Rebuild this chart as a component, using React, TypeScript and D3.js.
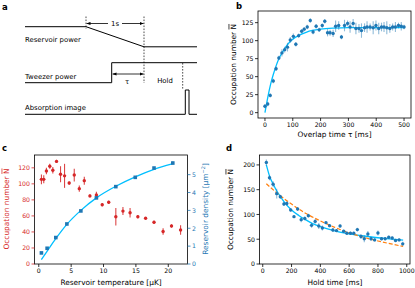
import React from 'react';
import * as d3 from 'd3';

const FONT = 'DejaVu Sans, Verdana, sans-serif';
const BLUE = '#1f77b4';
const RED = '#d62728';
const CYAN = '#00bfff';
const ORANGE = '#ff7f0e';

// ---- panel b: loading curve
const bTime = [0, 10, 19, 30, 40, 50, 61, 71, 81, 91, 102, 111, 121, 132, 141, 152, 163, 173, 184, 195, 206, 215, 225, 234, 245, 254, 265, 275, 286, 297, 306, 317, 327, 338, 347, 358, 367, 378, 389, 399, 409, 419, 428, 438, 449, 459, 469, 480, 490, 500];
const bN = [9, 12, 24, 44, 61, 76, 83, 87.5, 91, 101, 106, 95, 107, 113, 116, 119, 128, 112, 120, 115, 121, 127, 111, 111, 110, 120, 121, 105, 121, 124, 119, 124, 117, 117, 114, 118, 119, 119, 118, 121, 117, 119, 119, 118, 117, 119, 119, 121, 120, 119];
const bErr = [3, 3, 3, 3, 3, 3, 5, 4, 6, 4, 4, 3, 3, 3, 3, 3, 3, 3, 3, 3, 3, 3, 5, 4, 5, 8, 6, 3, 8, 4, 8, 6, 8, 6, 10, 6, 8, 5, 9, 7, 8, 6, 7, 9, 6, 5, 7, 4, 6, 3];
const bFitT = [0, 10, 20, 30, 40, 50, 60, 80, 100, 125, 150, 200, 250, 300, 400, 500];
const bFitN = [0, 21, 39, 53, 65, 75, 82, 94, 102, 108, 112, 116, 117.5, 118, 118, 118];
const bXTicks = [0, 100, 200, 300, 400, 500];
const bYTicks = [0, 25, 50, 75, 100, 125];

// ---- panel c: temperature scan
const cTemp = [0.41, 0.77, 1.18, 1.7, 2.17, 2.74, 3.36, 3.98, 4.7, 5.48, 6.26, 7.03, 7.9, 8.9, 9.8, 10.8, 11.9, 13.0, 14.1, 15.3, 16.5, 17.8, 19.2, 20.5, 21.9];
const cN = [105.6, 105.6, 116, 122, 117, 128, 112, 110, 101, 111, 94, 104, 85, 86, 74, 77, 59, 66, 64, 59, 57, 52, 40.5, 47.5, 42.5];
const cNErr = [6, 5, 4, 3, 4, 2, 10, 15, 2, 8, 4, 5, 2, 4, 2, 2, 11, 5, 6, 2, 1.5, 2, 4, 2, 6];
const cDensT = [0.41, 1.29, 2.63, 4.34, 6.5, 8.9, 11.9, 14.9, 17.8, 20.7];
const cDens = [0.62, 0.88, 1.48, 2.24, 2.97, 3.7, 4.33, 4.85, 5.37, 5.65];
const cDensErr = [0.05, 0.05, 0.05, 0.05, 0.05, 0.06, 0.06, 0.06, 0.07, 0.1];
const cFitT = [0.4, 1.3, 2.6, 4.3, 6.5, 8.9, 11.9, 14.9, 17.8, 20.6];
const cFitD = [0.25, 0.72, 1.4, 2.2, 3.0, 3.7, 4.35, 4.88, 5.3, 5.6];
const cXTicks = [0, 5, 10, 15, 20];
const cYTicks = [0, 20, 40, 60, 80, 100, 120];
const cRTicks = [0, 1, 2, 3, 4, 5];

// ---- panel d: hold time
const dTime = [25, 47, 72, 97, 122, 147, 167, 194, 217, 242, 267, 292, 317, 339, 364, 389, 414, 439, 464, 487, 512, 537, 562, 584, 609, 632, 657, 682, 705, 730, 752, 777, 800, 825, 850, 875, 899, 922, 947, 972];
const dN = [205, 174, 161, 142, 135.6, 121, 122, 109, 95.6, 111, 89.5, 92, 97.6, 78, 86, 76.7, 72.7, 83.5, 77.4, 68.7, 67.4, 76.7, 66, 62, 62, 62, 69.4, 55.4, 51, 60.7, 51, 48.6, 62.7, 51, 51, 53.9, 52.6, 47.3, 48.6, 40.7];
const dErr = [6, 5, 6, 10, 4, 4, 4, 3, 3, 4, 5, 4, 4, 5, 5, 6, 5, 3, 3, 4, 3, 3, 3, 3, 3, 3, 4, 5, 7, 6, 4, 3, 5, 3, 3, 3, 3, 3, 3, 4];
const dFitT = [25, 50, 75, 100, 125, 150, 200, 250, 300, 350, 400, 500, 600, 700, 800, 900, 975];
const dFitN = [200, 175, 160, 146, 135, 125, 109, 98, 89, 81, 75.5, 67, 61, 56.5, 53, 50, 48];
const dExpT = [25, 100, 200, 300, 400, 500, 600, 700, 800, 900, 975];
const dExpN = [162, 143, 121, 102, 87, 74, 63, 54, 46.5, 40, 35.5];
const dXTicks = [0, 200, 400, 600, 800, 1000];
const dYTicks = [0, 50, 100, 150, 200];

type Lin = d3.ScaleLinear<number, number>;
const TICK = 6.2;
const LABEL = 7.4;

const Box = ({ x, y }: { x: Lin; y: Lin }) => {
  const [x0, x1] = x.range();
  const [y0, y1] = y.range();
  return <rect x={x0} y={y1} width={x1 - x0} height={y0 - y1} fill="none" stroke="#000" strokeWidth={0.8} />;
};

const BottomAxis = ({ x, y, ticks }: { x: Lin; y: Lin; ticks: number[] }) => {
  const yb = y.range()[0];
  return (
    <g>
      {ticks.map(t => (
        <g key={t} transform={`translate(${x(t)},${yb})`}>
          <line y2={3} stroke="#000" strokeWidth={0.8} />
          <text y={9.3} textAnchor="middle" fontSize={TICK}>{t}</text>
        </g>
      ))}
    </g>
  );
};

const SideAxis = ({ x, y, ticks, side = 'left', color = '#000' }: { x: Lin; y: Lin; ticks: number[]; side?: string; color?: string }) => {
  const xr = side === 'left' ? x.range()[0] : x.range()[1];
  const dir = side === 'left' ? -1 : 1;
  return (
    <g>
      {ticks.map(t => (
        <g key={t} transform={`translate(${xr},${y(t)})`}>
          <line x2={3 * dir} stroke={color} strokeWidth={0.8} />
          <text x={4.5 * dir} y={2.3} textAnchor={side === 'left' ? 'end' : 'start'} fontSize={TICK} fill={color}>{t}</text>
        </g>
      ))}
    </g>
  );
};

const OccLabel = ({ cx, cy, color = '#000' }: { cx: number; cy: number; color?: string }) => (
  <text transform={`translate(${cx},${cy}) rotate(-90)`} dy="0.35em" textAnchor="middle" fontSize={LABEL} fill={color}>
    Occupation number <tspan style={{ textDecoration: 'overline' }}>N</tspan>
  </text>
);

const ErrorDots = ({ xs, ys, es, x, y, color, barOpacity = 0.5, r = 1.7, square = false }:
  { xs: number[]; ys: number[]; es: number[]; x: Lin; y: Lin; color: string; barOpacity?: number; r?: number; square?: boolean }) => (
  <g>
    {xs.map((v, i) => (
      <line key={'e' + i} x1={x(v)} x2={x(v)} y1={y(ys[i] - es[i])} y2={y(ys[i] + es[i])}
        stroke={color} strokeOpacity={barOpacity} strokeWidth={1.1} />
    ))}
    {xs.map((v, i) => square
      ? <rect key={'m' + i} x={x(v) - r} y={y(ys[i]) - r} width={2 * r} height={2 * r} fill={color} />
      : <circle key={'m' + i} cx={x(v)} cy={y(ys[i])} r={r} fill={color} />)}
  </g>
);

const curvePath = (xs: number[], ys: number[], x: Lin, y: Lin) =>
  d3.line<number>().x((d, i) => x(xs[i])).y((d, i) => y(ys[i])).curve(d3.curveMonotoneX)(xs) || '';

// schematic in panel a (pixel layout of the timing diagram)
const Schematic = () => {
  const ln = { stroke: '#000', strokeWidth: 1, fill: 'none' };
  const dash = { stroke: '#000', strokeWidth: 0.7, strokeDasharray: '1.6,1.4' };
  return (
    <g fontSize={6.9}>
      <defs>
        <marker id="ah" viewBox="0 0 10 10" refX="10" refY="5" markerWidth="5" markerHeight="5" orient="auto-start-reverse">
          <path d="M0,1 L10,5 L0,9 z" fill="#000" />
        </marker>
      </defs>
      {/* reservoir */}
      <polyline points="25,26.7 86,26.7 144,46.8 197,46.8" {...ln} />
      <line x1={86} x2={86} y1={16.5} y2={29} {...dash} />
      <line x1={144} x2={144} y1={16.5} y2={83} {...dash} />
      <line x1={108} x2={86.5} y1={23.5} y2={23.5} stroke="#000" strokeWidth={0.8} markerEnd="url(#ah)" />
      <line x1={122} x2={143.5} y1={23.5} y2={23.5} stroke="#000" strokeWidth={0.8} markerEnd="url(#ah)" />
      <text x={115} y={26} textAnchor="middle">1s</text>
      <text x={25} y={42}>Reservoir power</text>
      {/* tweezer */}
      <polyline points="25,82.7 111.7,82.7 111.7,62.7 197,62.7" {...ln} />
      <line x1={112.5} x2={143.5} y1={74} y2={74} stroke="#000" strokeWidth={0.8} markerStart="url(#ah)" markerEnd="url(#ah)" />
      <text x={127} y={84} textAnchor="middle">τ</text>
      <line x1={182.7} x2={182.7} y1={63} y2={90} {...dash} />
      <text x={165} y={83} textAnchor="middle">Hold</text>
      <text x={25} y={78.5}>Tweezer power</text>
      {/* imaging */}
      <polyline points="25,114.3 185.3,114.3 185.3,90 189,90 189,114.3 197,114.3" {...ln} />
      <text x={25} y={110}>Absorption image</text>
    </g>
  );
};

export default function App() {
  const bx = d3.scaleLinear().domain([-25, 525]).range([258, 411]);
  const by = d3.scaleLinear().domain([-7.4, 141.2]).range([118, 11]);

  const cx = d3.scaleLinear().domain([-0.66, 22.97]).range([34.5, 187.5]);
  const cy = d3.scaleLinear().domain([0, 136]).range([264, 155]);
  const cr = d3.scaleLinear().domain([0, 6.1]).range([264, 155]);

  const dx = d3.scaleLinear().domain([-22.5, 1022.5]).range([259.5, 410]);
  const dy = d3.scaleLinear().domain([0, 220]).range([264, 155]);

  return (
    <svg width={415} height={288} style={{ position: 'absolute', left: 0, top: 0, background: '#fff' }} fontFamily={FONT}>
      <rect width={415} height={288} fill="#fff" />
      {/* panel labels */}
      <g fontSize={8.5} fontWeight="bold">
        <text x={2} y={10}>a</text>
        <text x={236} y={9}>b</text>
        <text x={2} y={151}>c</text>
        <text x={226} y={151}>d</text>
      </g>

      <Schematic />

      {/* b */}
      <path d={curvePath(bFitT, bFitN, bx, by)} fill="none" stroke={CYAN} strokeWidth={1.3} />
      <ErrorDots xs={bTime} ys={bN} es={bErr} x={bx} y={by} color={BLUE} />
      <Box x={bx} y={by} />
      <BottomAxis x={bx} y={by} ticks={bXTicks} />
      <SideAxis x={bx} y={by} ticks={bYTicks} />
      <text x={334.5} y={136.5} textAnchor="middle" fontSize={LABEL}>Overlap time τ [ms]</text>
      <OccLabel cx={233} cy={64.5} />

      {/* c */}
      <path d={curvePath(cFitT, cFitD, cx, cr)} fill="none" stroke={CYAN} strokeWidth={1.3} />
      <ErrorDots xs={cTemp} ys={cN} es={cNErr} x={cx} y={cy} color={RED} barOpacity={0.85} />
      <ErrorDots xs={cDensT} ys={cDens} es={cDensErr} x={cx} y={cr} color={BLUE} r={1.8} square />
      <Box x={cx} y={cy} />
      <BottomAxis x={cx} y={cy} ticks={cXTicks} />
      <SideAxis x={cx} y={cy} ticks={cYTicks} color={RED} />
      <SideAxis x={cx} y={cr} ticks={cRTicks} side="right" color={BLUE} />
      <text x={111} y={285} textAnchor="middle" fontSize={LABEL}>Reservoir temperature [μK]</text>
      <OccLabel cx={6} cy={209} color={RED} />
      <text transform="translate(205,209) rotate(-90)" dy="0.35em" textAnchor="middle" fontSize={LABEL} fill={BLUE}>
        Reservoir density [μm<tspan dy={-2.8} fontSize={5}>−2</tspan><tspan dy={2.8}>]</tspan>
      </text>

      {/* d */}
      <path d={curvePath(dFitT, dFitN, dx, dy)} fill="none" stroke={CYAN} strokeWidth={1.3} />
      <path d={curvePath(dExpT, dExpN, dx, dy)} fill="none" stroke={ORANGE} strokeWidth={1.2} strokeDasharray="4,2" />
      <ErrorDots xs={dTime} ys={dN} es={dErr} x={dx} y={dy} color={BLUE} />
      <Box x={dx} y={dy} />
      <BottomAxis x={dx} y={dy} ticks={dXTicks} />
      <SideAxis x={dx} y={dy} ticks={dYTicks} />
      <text x={335} y={285} textAnchor="middle" fontSize={LABEL}>Hold time [ms]</text>
      <OccLabel cx={230} cy={209.5} />
    </svg>
  );
}
